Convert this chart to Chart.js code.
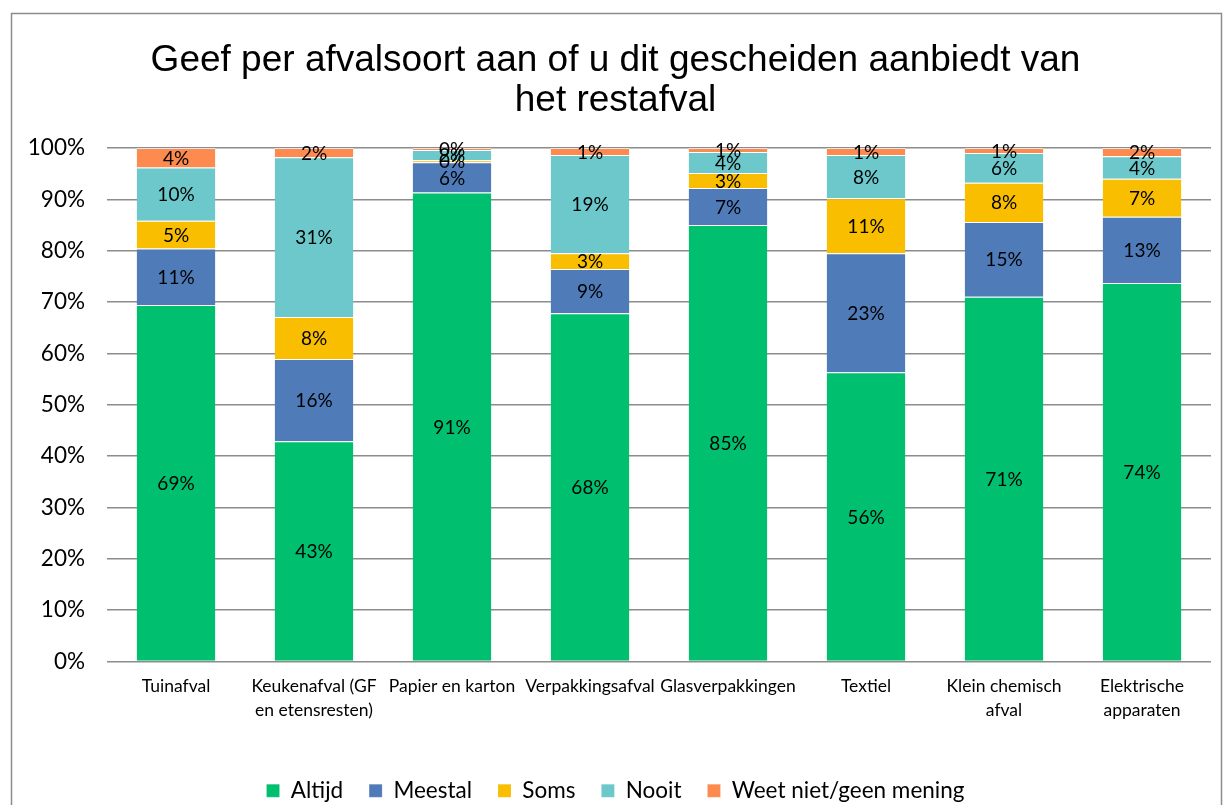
<!DOCTYPE html>
<html><head><meta charset="utf-8">
<script src="https://cdn.jsdelivr.net/npm/chart.js@4"></script>
<style>html,body{margin:0;padding:0;background:#fff}#wrap{width:1225px;height:805px;position:relative}</style>
</head><body><div id="wrap"><canvas id="c" width="1225" height="805"></canvas></div>
<script>
const categories = [["Tuinafval"],["Keukenafval (GF","en etensresten)"],["Papier en karton"],["Verpakkingsafval"],["Glasverpakkingen"],["Textiel"],["Klein chemisch","afval"],["Elektrische","apparaten"]];
const altijd = [69.4, 42.9, 91.3, 67.8, 85.0, 56.3, 71.0, 73.7];
const meestal = [11.0, 16.0, 5.9, 8.6, 7.2, 23.2, 14.6, 12.9];
const soms = [5.4, 8.2, 0.4, 3.1, 2.9, 10.7, 7.6, 7.4];
const nooit = [10.4, 31.1, 2.0, 19.1, 4.1, 8.4, 5.8, 4.4];
const weetNiet = [3.8, 1.8, 0.4, 1.4, 0.8, 1.4, 1.0, 1.6];
const yTicks = [0,10,20,30,40,50,60,70,80,90,100];

const FONT = "Lato, 'Open Sans', sans-serif";
const labelPlugin = {
  id:'segLabels',
  afterDatasetsDraw(chart){
    const ctx = chart.ctx;
    ctx.save();
    ctx.font = "19px " + FONT;
    ctx.fillStyle = "#000";
    ctx.textAlign = "center";
    ctx.textBaseline = "middle";
    chart.data.datasets.forEach((ds,i)=>{
      const meta = chart.getDatasetMeta(i);
      meta.data.forEach((el,j)=>{
        const v = ds.data[j];
        ctx.fillText(Math.round(v)+"%", el.x, (el.y+el.base)/2+1);
      });
    });
    ctx.restore();
  }
};
const borderPlugin = {
  id:'outerBorder',
  beforeDraw(chart){
    const ctx = chart.ctx;
    ctx.save();
    ctx.fillStyle="#fff";ctx.fillRect(0,0,chart.width,chart.height);
    ctx.strokeStyle="#8c8c8c";ctx.lineWidth=1.5;
    ctx.strokeRect(11.5,13.5,1210,800);
    ctx.restore();
  }
};
const mk = (label,data,color)=>({label,data,backgroundColor:color,borderColor:'rgba(255,255,255,0.6)',borderWidth:{top:1,bottom:0,left:0,right:0},borderSkipped:false,barPercentage:0.57,categoryPercentage:1});
new Chart(document.getElementById('c'),{
  type:'bar',
  data:{labels:categories,datasets:[
    mk('Altijd',altijd,'#00C06F'),
    mk('Meestal',meestal,'#4F7BB9'),
    mk('Soms',soms,'#F9BE00'),
    mk('Nooit',nooit,'#6CC8CB'),
    mk('Weet niet/geen mening',weetNiet,'#FD8A4F')
  ]},
  options:{
    responsive:false,animation:false,
    layout:{padding:{left:20,right:14,top:20,bottom:-7}},
    scales:{
      x:{stacked:true,grid:{display:false},border:{display:false},
        ticks:{font:{family:FONT,size:17.5,lineHeight:1.35},color:'#000',maxRotation:0,autoSkip:false,padding:5},
        afterFit(s){s.height=92;}},
      y:{stacked:true,min:0,max:100,
        afterBuildTicks(s){s.ticks=yTicks.map(v=>({value:v}));},
        ticks:{font:{family:FONT,size:22.5},color:'#000',padding:22,callback:v=>v+'%'},
        grid:{color:'#8c8c8c',lineWidth:1.5,drawTicks:false},border:{display:false},
        afterFit(s){s.width=87;}}
    },
    plugins:{
      title:{display:true,text:['Geef per afvalsoort aan of u dit gescheiden aanbiedt van','het restafval'],
        font:{family:"'Liberation Sans', Arial, sans-serif",size:37,weight:'normal',lineHeight:1.08},color:'#000',padding:{top:21,bottom:27}},
      legend:{position:'bottom',labels:{font:{family:FONT,size:22.5},color:'#000',boxWidth:13,boxHeight:13,padding:26}},
      tooltip:{enabled:false}
    }
  },
  plugins:[borderPlugin,labelPlugin]
});
</script></body></html>
